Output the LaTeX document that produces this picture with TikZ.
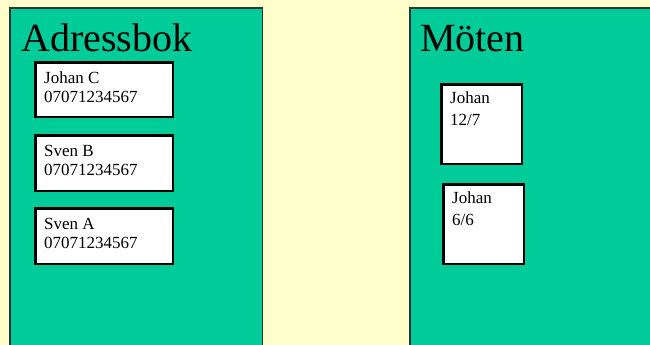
\documentclass[tikz,border=0pt]{standalone}
\usepackage{fontspec}
\setmainfont{Liberation Serif}
\definecolor{bgyellow}{HTML}{FFFFCC}
\definecolor{panelgreen}{HTML}{00CC99}
\definecolor{edgegray}{HTML}{333333}
\tikzset{
  panelbox/.style={draw=edgegray, line width=1.6pt, fill=panelgreen, anchor=north west, inner sep=0pt},
  cardbox/.style={draw=black, line width=2.6pt, fill=white, anchor=north west, inner sep=0pt},
  cardtext/.style={anchor=base west, inner sep=0pt, font=\fontsize{17}{19}\selectfont},
  titletext/.style={anchor=base west, inner sep=0pt, font=\fontsize{40}{45}\selectfont},
}
\begin{document}
\begin{tikzpicture}[x=1pt,y=-1pt]
\useasboundingbox (0,0) rectangle (650,345);
\fill[bgyellow] (0,0) rectangle (650,345);
% panels
\node[panelbox, minimum width=252.5pt, minimum height=350pt] (adr) at (9.3,7.3) {};
\node[panelbox, minimum width=260pt, minimum height=350pt] (mot) at (409.3,7.3) {};
\node[titletext] (adrtitle) at (21,52) {Adressbok};
\node[titletext] (mottitle) at (420,52) {Möten};
% address cards
\node[cardbox, minimum width=137.4pt, minimum height=54.4pt] (c1) at (34.3,61.3) {};
\node[cardtext] (c1a) at (44,83) {Johan C};
\node[cardtext] (c1b) at (44,102) {07071234567};
\node[cardbox, minimum width=137.4pt, minimum height=55.4pt] (c2) at (34.3,134.3) {};
\node[cardtext] (c2a) at (44,156) {Sven B};
\node[cardtext] (c2b) at (44,175) {07071234567};
\node[cardbox, minimum width=137.4pt, minimum height=55.4pt] (c3) at (34.3,207.3) {};
\node[cardtext] (c3a) at (44,229) {Sven A};
\node[cardtext] (c3b) at (44,248) {07071234567};
% meeting cards
\node[cardbox, minimum width=80.4pt, minimum height=79.4pt] (m1) at (440.3,83.3) {};
\node[cardtext] (m1a) at (450,103) {Johan};
\node[cardtext] (m1b) at (450,125) {12/7};
\node[cardbox, minimum width=80.4pt, minimum height=79.4pt] (m2) at (442.3,183.3) {};
\node[cardtext] (m2a) at (452,203) {Johan};
\node[cardtext] (m2b) at (452,225) {6/6};
\end{tikzpicture}
\end{document}
